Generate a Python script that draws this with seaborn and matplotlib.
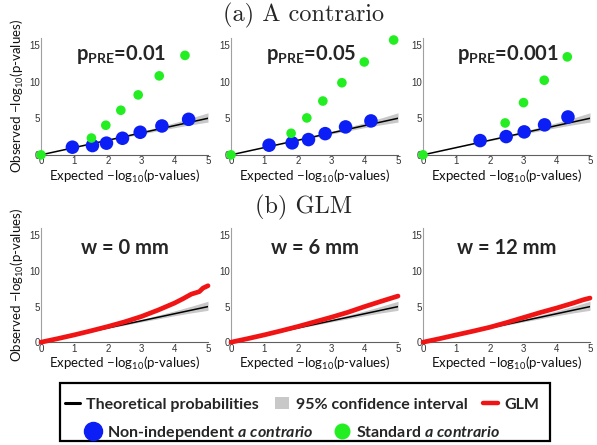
import numpy as np
import matplotlib
matplotlib.use('Agg')
import matplotlib.pyplot as plt
import seaborn as sns
from matplotlib.lines import Line2D
from matplotlib.patches import Patch, Rectangle

# ---- data ----
# (a) A contrario, one list per p_PRE panel
pre_labels = ['0.01', '0.05', '0.001']
blue_x = [[0.94, 1.54, 1.96, 2.44, 2.97, 3.62, 4.42],
          [1.14, 1.83, 2.32, 2.82, 3.43, 4.19],
          [1.71, 2.49, 3.03, 3.64, 4.34]]
blue_y = [[1.05, 1.27, 1.60, 2.27, 3.09, 3.95, 4.86],
          [1.32, 1.64, 2.09, 2.90, 3.82, 4.64],
          [1.95, 2.50, 3.14, 4.10, 5.18]]
green_x = [[0, 1.51, 1.94, 2.39, 2.91, 3.54, 4.31],
           [0, 1.80, 2.27, 2.75, 3.32, 3.99, 4.87],
           [0, 2.46, 3.01, 3.63, 4.32]]
green_y = [[0, 2.30, 4.05, 6.10, 8.20, 10.80, 13.60],
           [0, 2.95, 5.05, 7.36, 9.86, 12.70, 15.70],
           [0, 4.36, 7.14, 10.20, 13.40]]

# (b) GLM curves, one per smoothing width
w_labels = ['0', '6', '12']
glm_x = [[0, 0.5, 1.0, 1.5, 2.0, 2.5, 3.0, 3.5, 4.0, 4.25, 4.5, 4.74, 4.85, 5.0],
         [0, 0.5, 1.0, 1.5, 2.0, 2.5, 3.0, 3.5, 4.0, 4.5, 5.0],
         [0, 0.5, 1.0, 1.5, 2.0, 2.5, 3.0, 3.5, 4.0, 4.5, 4.8, 5.0]]
glm_y = [[0, 0.5, 1.03, 1.6, 2.2, 2.85, 3.6, 4.5, 5.5, 6.1, 6.75, 7.1, 7.6, 7.93],
         [0, 0.5, 1.03, 1.6, 2.2, 2.85, 3.5, 4.2, 5.0, 5.75, 6.48],
         [0, 0.5, 1.03, 1.55, 2.1, 2.75, 3.45, 4.15, 4.8, 5.5, 5.96, 6.2]]

# theoretical line and 95% band
theo_x = [0, 5]
theo_y = [0, 5]
ci_x = [0, 1, 2, 3, 3.5, 4, 4.5, 5]
ci_lo = [0, 0.98, 1.93, 2.85, 3.28, 3.72, 4.12, 4.48]
ci_hi = [0, 1.02, 2.08, 3.20, 3.80, 4.40, 5.05, 5.75]

sns.set_style('white')
plt.rcParams['font.family'] = ['Lato', 'DejaVu Sans']
plt.rcParams['mathtext.fontset'] = 'custom'
plt.rcParams['mathtext.rm'] = 'Lato'
plt.rcParams['mathtext.it'] = 'Lato:italic'
plt.rcParams['mathtext.bf'] = 'Lato:bold'
plt.rcParams['mathtext.bfit'] = 'Lato:italic:bold'

BLUE = '#0a1ef5'
GREEN = '#22ee22'
RED = '#f01414'
GRAY = '#c8c8c8'

fig = plt.figure(figsize=(5.97, 4.45), dpi=100)
lefts = [41 / 597, 231 / 597, 423 / 597]
w = 167 / 597
top_axes = [fig.add_axes([l, 0.652, w, 0.263]) for l in lefts]
bot_axes = [fig.add_axes([l, 0.231, w, 0.256]) for l in lefts]


def style(ax, first):
    ax.set_xlim(0, 5)
    ax.set_ylim(0, 16)
    ax.set_xticks([0, 1, 2, 3, 4, 5])
    ax.set_yticks([0, 5, 10, 15])
    sns.despine(ax=ax)
    ax.spines['left'].set_color('#a0a0a0')
    ax.spines['bottom'].set_color('#606060')
    ax.tick_params(direction='in', length=2, width=0.6, colors='#777777',
                   labelcolor='#333333', labelsize=7, pad=1)
    for t in ax.get_xticklabels() + ax.get_yticklabels():
        t.set_fontfamily('Liberation Sans')
    ax.set_xlabel(r'Expected $-$log$_{10}$(p-values)', fontsize=9.5,
                  labelpad=1, color='#111111')
    if first:
        ax.set_ylabel(r'Observed $-$log$_{10}$(p-values)', fontsize=9.5,
                      labelpad=2, color='#111111')


def theory(ax):
    ax.fill_between(ci_x, ci_lo, ci_hi, color=GRAY, lw=0, zorder=1)
    ax.plot(theo_x, theo_y, color='black', lw=1.1, zorder=2)


for i, ax in enumerate(top_axes):
    theory(ax)
    sns.scatterplot(x=blue_x[i], y=blue_y[i], ax=ax, color=BLUE, s=95,
                    edgecolor='none', zorder=3, clip_on=False)
    sns.scatterplot(x=green_x[i], y=green_y[i], ax=ax, color=GREEN, s=48,
                    edgecolor='none', zorder=4, clip_on=False)
    style(ax, i == 0)
    ax.text(0.48 if i < 2 else 0.51, 0.86,
            r'$\mathbf{p}_\mathbf{PRE}$=' + pre_labels[i],
            transform=ax.transAxes, ha='center', va='center',
            fontsize=14.5, fontweight='bold')

for i, ax in enumerate(bot_axes):
    theory(ax)
    sns.lineplot(x=glm_x[i], y=glm_y[i], ax=ax, color=RED, lw=3.4,
                 zorder=3, clip_on=False, sort=False)
    style(ax, i == 0)
    ax.text(0.5, 0.83, 'w = %s mm' % w_labels[i], transform=ax.transAxes,
            ha='center', va='center', fontsize=14.5, fontweight='bold')

fig.text(0.508, 0.966, '(a) A contrario', ha='center', va='center',
         fontsize=17.5, family='cmr10')
fig.text(0.508, 0.533, '(b) GLM', ha='center', va='center',
         fontsize=17.5, family='cmr10')

# legend: two rows inside one black frame
leg_font = {'weight': 'bold', 'size': 11.5}
row1 = fig.legend(
    [Line2D([], [], color='black', lw=2.2),
     Patch(facecolor=GRAY, edgecolor='none'),
     Line2D([], [], color=RED, lw=3.2)],
    ['Theoretical probabilities', '95% confidence interval', 'GLM'],
    loc='center', bbox_to_anchor=(0.506, 0.091), ncol=3, frameon=False,
    prop=leg_font, handlelength=0.9, handletextpad=0.4, columnspacing=1.0,
    borderpad=0, borderaxespad=0)
row2 = fig.legend(
    [Line2D([], [], marker='o', ls='none', color=BLUE, markersize=13),
     Line2D([], [], marker='o', ls='none', color=GREEN, markersize=10.5)],
    [r'Non-independent $\mathbfit{a\ contrario}$',
     r'Standard $\mathbfit{a\ contrario}$'],
    loc='center', bbox_to_anchor=(0.49, 0.028), ncol=2, frameon=False,
    prop=leg_font, handlelength=1.0, handletextpad=0.4, columnspacing=1.3,
    borderpad=0, borderaxespad=0)
fig.add_artist(Rectangle((60 / 597, 4 / 445), 490 / 597, 58 / 445,
                         transform=fig.transFigure, fill=False,
                         edgecolor='black', lw=1.6))

fig.savefig('out.png', dpi=100)
